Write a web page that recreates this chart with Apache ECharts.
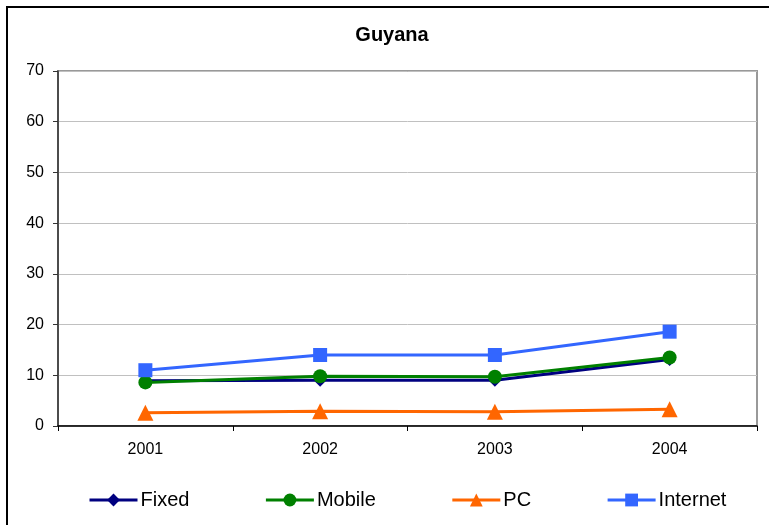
<!DOCTYPE html>
<html>
<head>
<meta charset="utf-8">
<script src="https://cdn.jsdelivr.net/npm/echarts@6/dist/echarts.min.js"></script>
<style>html,body{margin:0;padding:0;background:#fff;}#c{width:769px;height:525px;}</style>
</head>
<body>
<div id="c"></div>
<script>
const categories = ['2001', '2002', '2003', '2004'];
const fixed = [8.9, 9.0, 9.0, 13.1];
const mobile = [8.6, 9.8, 9.7, 13.5];
const pc = [2.6, 2.9, 2.8, 3.3];
const internet = [11.0, 14.0, 14.0, 18.6];
const yTicks = { min: 0, max: 70, interval: 10 };

const chart = echarts.init(document.getElementById('c'));
const font = 'Liberation Sans, Arial, sans-serif';
function mk(name, data, color, symbol, size) {
  return {
    name, type: 'line', data, symbol, symbolSize: size,
    lineStyle: { color, width: 3 },
    itemStyle: { color },
    emphasis: { disabled: true },
    animation: false
  };
}
chart.setOption({
  animation: false,
  backgroundColor: '#fff',
  title: {
    text: 'Guyana', left: 387, top: 20, textAlign: 'center',
    textStyle: { fontFamily: font, fontWeight: 'bold', fontSize: 20, color: '#000' }
  },
  graphic: [{
    type: 'rect', shape: { x: 7, y: 7, width: 900, height: 700 },
    style: { fill: 'none', stroke: '#000', lineWidth: 2 }, silent: true
  }],
  legend: {
    left: 83, top: 485, itemGap: 75, itemWidth: 48, itemHeight: 16,
    lineStyle: { width: 3 },
    textStyle: { fontFamily: font, fontSize: 20, color: '#000', padding: [0, 0, 0, -2] },
    data: ['Fixed', 'Mobile', 'PC', 'Internet']
  },
  grid: {
    left: 58, right: 12, top: 71, bottom: 99,
    show: true, borderColor: '#999', borderWidth: 2, backgroundColor: 'transparent'
  },
  xAxis: {
    type: 'category', data: categories, boundaryGap: true,
    axisLine: { lineStyle: { color: '#000', width: 1.5 } },
    axisTick: { show: true, length: 5, lineStyle: { color: '#000' } },
    axisLabel: { fontFamily: font, fontSize: 16, color: '#000', margin: 16 },
    splitLine: { show: false }
  },
  yAxis: {
    type: 'value', min: yTicks.min, max: yTicks.max, interval: yTicks.interval,
    axisLine: { show: true, lineStyle: { color: '#333', width: 1.5 } },
    axisTick: { show: true, length: 5, lineStyle: { color: '#333' } },
    axisLabel: { fontFamily: font, fontSize: 16, color: '#000', margin: 14 },
    splitLine: { lineStyle: { color: '#c0c0c0', width: 1 } }
  },
  series: [
    mk('Fixed', fixed, '#000080', 'diamond', 13),
    mk('Mobile', mobile, '#008000', 'circle', 14),
    mk('PC', pc, '#FF6600', 'triangle', 16),
    mk('Internet', internet, '#3366FF', 'rect', 14)
  ]
});
</script>
</body>
</html>
